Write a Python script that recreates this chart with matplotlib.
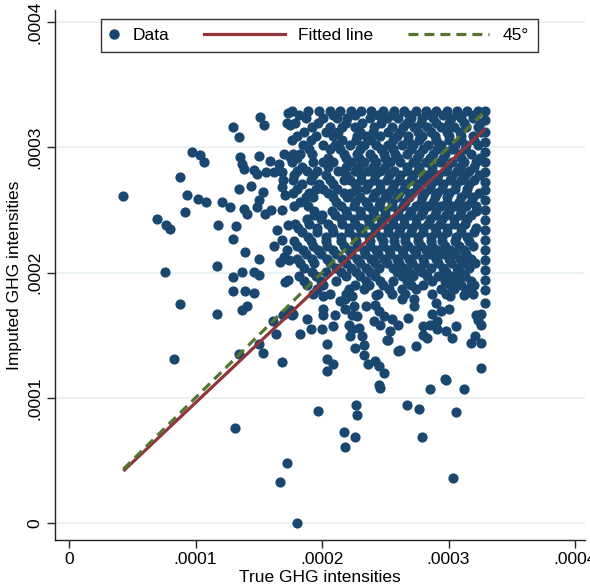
import numpy as np
import matplotlib
matplotlib.use("Agg")
from matplotlib import pyplot as plt
from matplotlib.lines import Line2D
from matplotlib.legend_handler import HandlerLine2D

plt.rcParams['font.family'] = ['Liberation Sans', 'DejaVu Sans']

# values are in units of 1e-5
scale = 1e-5

# scattered points outside the dense block: (true, imputed)
scattered_pts = [
    (4.3, 26.1), (6.98, 24.3), (7.7, 23.8), (8.0, 23.5), (7.6, 20.05), (8.8, 27.6),
    (9.36, 26.2), (9.15, 24.8), (9.75, 29.6), (10.36, 29.4), (10.7, 28.8), (10.2, 25.9),
    (10.8, 25.6), (11.8, 23.8), (12.1, 25.6), (12.76, 25.2), (11.7, 20.5), (13.0, 31.6),
    (13.4, 30.8), (13.4, 26.7), (13.2, 23.7), (12.95, 22.7), (13.9, 21.6), (13.5, 29.2),
    (13.7, 28.7), (13.8, 28.3), (13.8, 25.1), (14.1, 24.7), (14.4, 26.9), (14.6, 28.2),
    (14.9, 27.9), (15.0, 29.3), (15.35, 26.4), (15.0, 25.8), (14.9, 25.2), (15.5, 24.7),
    (16.0, 25.0), (15.05, 21.1), (16.8, 25.0), (15.9, 28.9), (15.1, 32.4), (15.45, 31.8),
    (16.45, 23.4), (16.2, 22.1), (16.8, 22.6), (17.2, 21.8), (17.0, 21.25), (16.7, 20.8),
    (17.4, 21.0), (17.35, 23.8), (15.6, 28.0), (16.2, 28.0), (16.6, 28.7), (16.8, 28.0),
    (16.95, 27.4), (16.8, 26.8), (17.1, 26.2), (17.0, 29.5), (17.5, 29.2), (17.3, 32.7),
    (17.2, 31.9), (17.5, 31.8), (13.0, 19.65), (13.7, 20.05), (14.6, 20.05), (15.05, 19.8),
    (13.0, 18.5), (13.9, 18.5), (14.65, 18.4), (17.1, 19.25), (17.35, 19.4),
    (8.8, 17.5), (8.33, 13.1), (11.7, 16.7), (13.65, 17.0), (14.05, 17.3), (13.4, 13.5),
    (13.15, 7.6), (15.05, 14.3), (15.35, 13.6), (16.4, 15.1), (16.1, 16.1), (16.9, 16.6),
    (17.6, 16.6), (16.8, 12.85), (17.25, 4.8), (16.7, 3.3), (18.06, 0.0),
    (19.7, 8.96), (22.65, 9.4), (22.8, 8.6), (21.7, 7.3), (22.6, 6.9), (21.8, 6.1),
    (26.7, 9.4), (27.7, 9.1), (30.6, 8.9), (27.9, 6.9), (30.35, 3.6),
    (18.3, 15.1), (19.1, 15.5), (18.8, 16.3), (20.0, 15.5), (20.4, 14.3), (20.4, 13.1),
    (20.9, 12.7), (20.4, 12.1), (20.1, 18.1), (20.1, 17.1), (20.1, 16.6), (21.0, 16.6),
    (20.9, 15.7), (21.4, 17.7), (21.8, 17.9), (22.4, 18.1), (21.8, 17.1), (22.5, 17.3),
    (22.4, 16.6), (22.8, 16.5), (22.1, 15.8), (22.4, 15.5), (22.9, 15.6), (22.2, 14.9),
    (23.2, 14.9), (23.3, 14.2), (22.6, 14.0), (23.3, 13.4), (23.6, 12.7), (24.2, 12.9),
    (24.5, 12.5), (24.9, 12.0), (24.5, 11.0), (24.6, 10.8), (23.5, 17.3), (24.2, 17.4),
    (24.5, 16.9), (24.1, 16.1), (24.6, 15.8), (24.9, 16.5), (25.1, 14.6), (24.3, 18.2),
    (17.5, 17.0), (17.7, 16.7),
    (26.3, 17.9), (27.3, 17.9), (27.3, 17.3), (29.05, 17.6), (30.1, 18.1), (31.2, 18.2),
    (25.5, 16.3), (26.0, 15.8), (25.4, 15.3), (25.2, 14.6), (26.8, 16.4), (28.7, 16.7),
    (29.4, 16.9), (30.0, 17.1), (28.0, 15.7), (28.5, 15.8), (29.1, 16.1), (29.1, 15.5),
    (28.0, 15.0), (28.3, 14.8), (29.8, 15.3), (30.6, 15.7), (30.3, 14.8), (27.4, 14.15),
    (26.0, 13.7), (26.2, 13.8), (32.2, 16.6), (32.6, 16.7), (32.3, 16.2), (32.6, 15.8),
    (32.1, 14.9), (31.8, 14.4), (32.6, 14.4), (32.6, 12.4), (29.7, 11.5), (29.8, 11.4),
    (28.5, 10.7), (31.2, 10.7),
]

# dense block, read row by row: imputed value of the row, true values in it
dense_rows_y = [32.9, 32.6, 32.3, 31.95, 31.6, 31.25, 30.9, 30.55, 30.2, 29.85, 29.5,
                29.15, 28.8, 28.45, 28.1, 27.75, 27.4, 27.05, 26.7, 26.35, 26.0, 25.65,
                25.3, 24.95, 24.6, 24.25, 23.9, 23.55, 23.2, 22.85, 22.5, 22.15, 21.8,
                21.45, 21.1, 20.75, 20.4, 20.05, 19.7, 19.35, 19.0, 18.65, 18.3]
dense_rows_x = [
    [17.6, 18.9, 19.8, 20.6, 21.4, 22.3, 23.1, 23.9, 24.8, 25.7, 26.5, 27.4, 28.2, 29.0, 29.9, 30.7, 31.5, 32.3],
    [18.2, 20.9, 22.6, 24.4, 25.5, 26.9, 28.5, 29.6, 30.8, 32.0],
    [18.7, 20.1, 21.2, 22.0, 23.8, 25.1, 26.0, 27.0, 27.9, 28.8, 30.2, 31.0, 31.9],
    [17.9, 19.7, 21.9, 23.2, 24.7, 26.7, 27.8, 29.0, 30.0, 31.2, 32.5],
    [19.2, 20.6, 21.6, 22.6, 24.1, 25.5, 26.4, 27.3, 28.3, 29.4, 30.4, 31.4, 32.3],
    [18.6, 20.3, 21.3, 23.0, 24.0, 25.2, 26.2, 27.6, 28.6, 29.9, 30.9, 32.6],
    [18.0, 19.5, 20.9, 22.8, 23.5, 24.6, 25.9, 26.8, 27.9, 28.9, 30.0, 31.0, 31.9],
    [17.6, 19.1, 21.6, 22.7, 23.9, 25.6, 26.8, 27.7, 29.0, 30.0, 31.0, 32.0],
    [18.5, 20.1, 21.0, 22.2, 23.3, 24.3, 25.2, 26.3, 27.2, 28.4, 29.4, 30.5, 31.4, 32.3],
    [19.0, 20.6, 21.4, 23.0, 24.7, 25.6, 27.0, 28.0, 29.1, 30.3, 31.3],
    [17.7, 18.3, 19.2, 21.7, 22.8, 23.8, 24.9, 25.8, 26.7, 27.7, 28.8, 29.7, 30.8, 31.8],
    [18.0, 20.5, 21.9, 22.9, 24.0, 25.0, 26.0, 27.5, 28.5, 29.6, 31.0, 32.5],
    [17.6, 19.3, 20.1, 20.9, 22.3, 23.3, 24.3, 25.4, 26.2, 27.2, 28.2, 29.3, 30.3, 31.2, 32.2],
    [18.4, 20.5, 21.9, 22.9, 24.0, 25.0, 26.7, 27.7, 28.7, 29.9, 30.9, 32.0],
    [18.0, 18.8, 19.6, 21.3, 22.6, 23.6, 24.6, 25.7, 26.7, 27.6, 28.7, 29.7, 30.7, 31.6],
    [17.8, 19.3, 20.3, 21.9, 23.1, 24.2, 25.3, 26.2, 27.2, 28.3, 29.2, 30.3, 31.3, 32.4],
    [17.7, 19.1, 20.6, 21.7, 22.2, 23.1, 24.1, 25.1, 26.1, 27.0, 28.0, 29.1, 30.1, 31.0, 32.0],
    [18.4, 19.8, 20.9, 22.6, 23.6, 24.6, 25.7, 26.6, 27.5, 28.6, 29.6, 30.6, 31.6],
    [18.0, 19.5, 20.1, 21.2, 22.8, 23.5, 24.6, 25.5, 26.5, 27.5, 28.5, 29.5, 30.5, 31.5],
    [17.7, 19.0, 20.5, 21.7, 22.3, 24.2, 25.2, 26.1, 27.1, 28.1, 29.1, 30.0, 31.4, 32.4],
    [18.7, 19.3, 20.9, 22.0, 23.0, 24.0, 25.0, 25.9, 26.9, 27.9, 28.9, 29.9, 31.0, 31.9],
    [18.3, 21.1, 22.6, 23.5, 24.6, 25.5, 26.6, 27.8, 28.8, 29.9, 30.8, 31.8],
    [17.8, 18.9, 21.5, 22.5, 23.6, 24.5, 25.5, 26.4, 27.4, 28.4, 29.4, 30.4, 31.4, 32.2],
    [19.4, 20.8, 21.9, 23.0, 24.0, 25.0, 26.0, 27.0, 28.0, 29.0, 30.0, 31.0, 32.2],
    [19.4, 20.0, 21.0, 22.0, 23.1, 24.1, 25.0, 26.0, 26.9, 27.8, 28.9, 29.8, 30.9, 31.8],
    [18.8, 19.9, 21.5, 22.5, 23.6, 24.7, 25.6, 26.5, 27.4, 28.5, 29.5, 30.4, 31.5],
    [17.9, 19.0, 20.5, 21.6, 22.6, 23.7, 24.7, 25.6, 26.5, 27.4, 28.4, 29.3, 30.4, 31.3],
    [18.1, 19.6, 20.8, 22.1, 23.0, 24.2, 25.2, 26.2, 27.1, 28.0, 28.9, 29.9, 31.0, 32.2],
    [18.4, 19.6, 20.9, 22.1, 23.2, 24.2, 25.2, 26.1, 27.0, 28.0, 29.0, 29.9, 31.0, 32.0],
    [18.9, 20.3, 21.5, 22.6, 23.7, 24.7, 25.7, 26.6, 27.6, 28.6, 29.5, 30.6, 31.5],
    [17.8, 19.1, 20.3, 21.5, 22.7, 23.8, 24.8, 25.7, 26.6, 27.6, 28.6, 29.5, 30.5, 31.6],
    [18.0, 19.3, 20.4, 21.7, 22.8, 23.8, 24.8, 25.8, 26.8, 27.8, 28.7, 29.7, 30.8, 31.9],
    [18.5, 19.7, 20.9, 22.1, 23.3, 24.3, 25.3, 26.3, 27.3, 28.2, 29.1, 30.1, 31.2],
    [18.7, 19.9, 21.1, 22.3, 23.4, 24.4, 25.4, 26.4, 27.4, 28.5, 29.5, 30.5, 31.4],
    [18.0, 19.2, 20.4, 21.6, 22.8, 23.9, 24.9, 25.9, 26.9, 28.0, 29.0, 30.0, 30.9, 31.8],
    [18.3, 19.4, 20.6, 21.9, 23.0, 24.2, 25.1, 26.1, 27.1, 28.1, 29.2, 30.2, 31.2, 32.1],
    [18.6, 21.1, 22.3, 23.5, 24.5, 25.6, 26.5, 27.6, 28.6, 29.6, 30.7, 31.6],
    [19.2, 20.3, 21.5, 22.7, 23.8, 25.9, 26.9, 27.9, 29.8, 30.9],
    [18.2, 19.5, 21.9, 23.0, 24.2, 26.3, 27.2, 28.3, 29.2, 30.3, 31.3],
    [18.6, 19.9, 21.1, 23.5, 24.6, 25.6, 26.7, 28.7, 29.7, 30.7, 31.8],
    [18.8, 20.1, 22.6, 23.7, 24.8, 27.0, 28.0, 30.1, 31.0, 32.0],
    [19.6, 22.1, 23.3, 25.3, 26.3, 27.4, 29.4, 30.4, 31.4],
    [19.3, 20.6, 21.9, 24.4, 25.5, 26.6, 28.7, 29.8, 31.9],
]

# points sitting at the upper cap of the true values
cap_x = 32.9
cap_col_y = [32.9, 32.2, 31.2, 30.4, 29.6, 28.8, 28.0, 27.2, 26.6, 25.8, 25.0, 24.2,
             23.4, 22.6, 21.8, 21.0, 20.2, 19.4, 18.6, 17.6]

# fitted line (slope, intercept in 1e-5 units)
fit_slope = 0.955
fit_intercept = 0.05

xs = [p[0] for p in scattered_pts]
ys = [p[1] for p in scattered_pts]
for yrow, xrow in zip(dense_rows_y, dense_rows_x):
    xs += xrow
    ys += [yrow] * len(xrow)
xs += [cap_x] * len(cap_col_y)
ys += cap_col_y
true_x = np.array(xs) * scale
imputed_y = np.array(ys) * scale

navy = '#1a476f'
maroon = '#90353b'
green = '#55752f'
dash = (0, (3.1, 1.9))


class HandlerDot(HandlerLine2D):
    # narrow key for the marker entry, like Stata draws it
    def legend_artist(self, legend, orig_handle, fontsize, handlebox):
        handlebox.width = 0.5 * fontsize
        return super().legend_artist(legend, orig_handle, fontsize, handlebox)


fig = plt.figure(figsize=(5.9, 5.86), dpi=100)
ax = fig.add_axes([55/590, 46/586, 530/590, 530/586])

ax.scatter(true_x, imputed_y, s=54, color=navy, linewidths=0, zorder=2)

xl = np.array([true_x.min(), true_x.max()])
ax.plot(xl, fit_slope * xl + fit_intercept * scale, color=maroon, lw=2.3, zorder=3,
        solid_capstyle='butt')
ax.plot(xl, xl, color=green, lw=2.3, ls=dash, zorder=3)

ticks = [0, 0.0001, 0.0002, 0.0003, 0.0004]
tick_labels = ['0', '.0001', '.0002', '.0003', '.0004']
ax.set_xticks(ticks)
ax.set_xticklabels(tick_labels)
ax.set_yticks(ticks)
ax.set_yticklabels(tick_labels, rotation=90, va='center')
ax.set_xlim(-1.107 * scale, 40.79 * scale)
ax.set_ylim(-1.357 * scale, 40.96 * scale)

ax.grid(axis='y', color='#eaf2f3', lw=1.5, zorder=0)
ax.set_axisbelow(True)
for s in ['top', 'right']:
    ax.spines[s].set_visible(False)
for s in ['left', 'bottom']:
    ax.spines[s].set_color('#222222')
    ax.spines[s].set_linewidth(1.0)
ax.tick_params(axis='both', length=6, width=1, color='#222222', labelsize=12.5,
               labelcolor='black', pad=3)

ax.set_xlabel('True GHG intensities', fontsize=12.5, labelpad=2)
ax.set_ylabel('Imputed GHG intensities', fontsize=12.5, labelpad=4)

dot_key = Line2D([], [], marker='o', color=navy, ls='none', markersize=6.5)
handles = [
    dot_key,
    Line2D([], [], color=maroon, lw=2.3),
    Line2D([], [], color=green, lw=2.3, ls=dash),
]
leg = ax.legend(handles, ['Data', 'Fitted line', '45°'], ncol=3, loc='upper center',
                bbox_to_anchor=(0.499, 0.983), borderaxespad=0, fontsize=12.5,
                frameon=True, fancybox=False, edgecolor='black', handlelength=4.66,
                columnspacing=2.0, handletextpad=0.8, borderpad=0.5,
                handler_map={dot_key: HandlerDot(numpoints=1)})
leg.get_frame().set_linewidth(1.0)

fig.savefig('out.png', dpi=100)
